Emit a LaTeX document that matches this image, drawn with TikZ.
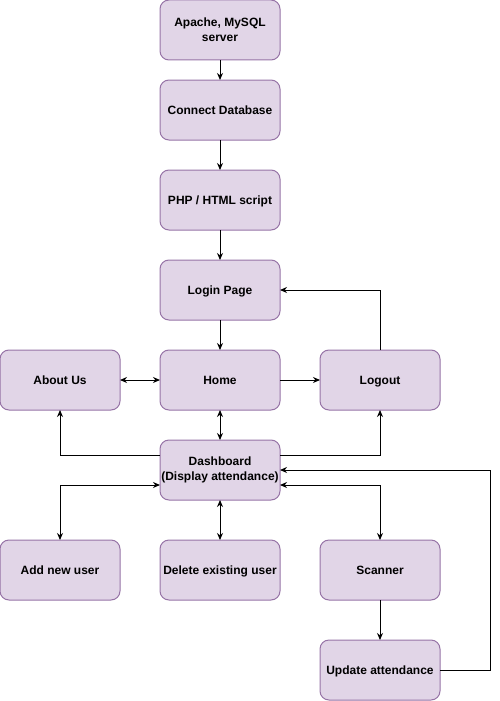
\documentclass[tikz,border=0pt]{standalone}
\usepackage{fontspec}
\setmainfont{Liberation Sans}
\usetikzlibrary{arrows.meta,positioning}
\definecolor{boxfill}{HTML}{E1D5E7}
\definecolor{boxline}{HTML}{9673A6}

\begin{document}
\begin{tikzpicture}[x=1pt,y=-1pt,node distance=20pt,line width=1pt,
	box/.style={rectangle,rounded corners=9pt,draw=boxline,fill=boxfill,
		minimum width=120pt,minimum height=60pt,inner sep=1pt,outer sep=0pt,
		align=center,font=\bfseries\fontsize{12}{15}\selectfont},
	one/.style={box,text height=10pt,text depth=1.4pt},
	>={Stealth[length=7pt,width=6pt]}]
		\useasboundingbox (0,0) rectangle (500,701);
		\node[box] (A) at (220,30) {Apache, MySQL\\server};
		\node[one] (B) [below=20pt of A] {Connect Database};
		\node[one] (C) [below=30pt of B] {PHP / HTML script};
		\node[one] (D) [below=30pt of C] {Login Page};
		\node[one] (E) [below=30pt of D] {Home};
		\node[one] (F) [left=40pt of E] {About Us};
		\node[one] (G) [right=40pt of E] {Logout};
		\node[box] (H) [below=30pt of E] {Dashboard\\(Display attendance)};
		\node[one] (I) [below=40pt of H] {Delete existing user};
		\node[one] (J) [left=40pt of I] {Add new user};
		\node[one] (K) [right=40pt of I] {Scanner};
		\node[one] (L) [below=40pt of K] {Update attendance};
		\draw[->] (A) -- (B);
		\draw[->] (B) -- (C);
		\draw[->] (C) -- (D);
		\draw[->] (D) -- (E);
		\draw[<->] (F) -- (E);
		\draw[->] (E) -- (G);
		\draw[<->] (E) -- (H);
		\draw[->] (G.north) |- (D.east);
		\draw[->] ([yshift=15pt]H.west) -| (F.south);
		\draw[->] ([yshift=15pt]H.east) -| (G.south);
		\draw[<->] ([yshift=-15pt]H.west) -| (J.north);
		\draw[<->] (H) -- (I);
		\draw[<->] ([yshift=-15pt]H.east) -| (K.north);
		\draw[->] (K) -- (L);
		\draw[->] (L.east) -- ++(50,0) |- (H.east);
	\end{tikzpicture}
\end{document}
